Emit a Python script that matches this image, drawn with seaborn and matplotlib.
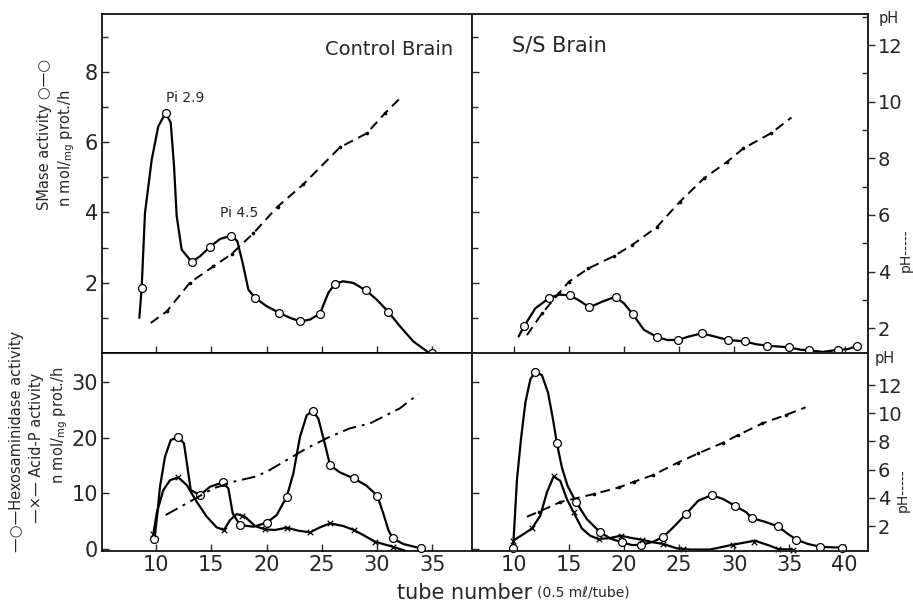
import matplotlib
matplotlib.use("Agg")
import matplotlib.pyplot as plt
import seaborn as sns
from matplotlib.ticker import MultipleLocator

sns.set_style("ticks")
plt.rcParams["font.family"] = ["DejaVu Sans"]

# ---- Control Brain : SMase (top left)
ctl_sm_x = [8.49, 8.70, 9.0, 9.61, 10.21, 10.87, 11.33, 11.63, 11.87, 12.32, 13.23, 13.98, 14.89,
            15.79, 16.79, 17.36, 17.84, 18.36, 18.96, 20.02, 21.16, 22.13, 23.03, 23.94, 24.84,
            25.6, 26.2, 26.95, 27.86, 29.0, 29.97, 31.03, 32.08, 33.29, 34.95]
ctl_sm_y = [1.0, 1.85, 3.98, 5.50, 6.45, 6.83, 6.55, 5.31, 3.89, 2.94, 2.59, 2.75, 3.02,
            3.24, 3.34, 3.18, 2.56, 1.80, 1.57, 1.33, 1.14, 1.0, 0.90, 0.95, 1.12,
            1.71, 1.97, 2.04, 1.99, 1.78, 1.52, 1.17, 0.76, 0.33, -0.05]
ctl_sm_mx = [8.70, 10.87, 13.23, 14.89, 16.79, 18.96, 21.16, 23.03, 24.84, 26.2, 29.0, 31.03, 34.95]
ctl_sm_my = [1.85, 6.83, 2.59, 3.02, 3.34, 1.57, 1.14, 0.90, 1.12, 1.97, 1.78, 1.17, 0.0]
ctl_ph1_x = [9.52, 10.97, 13.08, 15.19, 16.85, 18.81, 21.0, 23.33, 26.65, 29.06, 30.72, 32.23]
ctl_ph1_y = [2.18, 2.59, 3.61, 4.18, 4.62, 5.35, 6.29, 7.08, 8.39, 8.88, 9.59, 10.18]

# ---- S/S Brain : SMase (top right)
ss_sm_x = [10.45, 10.96, 11.96, 13.24, 14.1, 15.09, 15.9, 16.87, 18.03, 19.24, 20.0, 20.78, 21.8,
           23.03, 23.94, 24.9, 25.9, 27.05, 28.2, 29.4, 30.96, 31.96, 32.94, 35.0, 36.06, 36.8,
           38.0, 39.4, 40.3, 41.1]
ss_sm_y = [0.47, 0.77, 1.27, 1.57, 1.66, 1.64, 1.5, 1.30, 1.46, 1.60, 1.41, 1.11, 0.66,
           0.45, 0.37, 0.37, 0.47, 0.56, 0.47, 0.37, 0.33, 0.25, 0.21, 0.16, 0.09, 0.08,
           0.03, 0.09, 0.11, 0.2]
ss_sm_mx = [10.96, 13.24, 15.09, 16.87, 19.24, 20.78, 23.03, 24.9, 27.05, 29.4, 30.96, 32.94,
            35.0, 36.8, 39.4, 41.1]
ss_sm_my = [0.77, 1.57, 1.64, 1.30, 1.60, 1.11, 0.45, 0.37, 0.56, 0.37, 0.33, 0.21,
            0.16, 0.08, 0.09, 0.2]
ss_ph1_x = [11.2, 12.57, 14.1, 15.0, 16.78, 19.06, 20.72, 23.0, 25.05, 27.24, 29.36, 30.82, 33.3, 35.18]
ss_ph1_y = [1.75, 2.52, 3.23, 3.64, 4.11, 4.54, 4.93, 5.58, 6.46, 7.29, 7.88, 8.35, 8.88, 9.44]

# ---- Control Brain : Hexosaminidase / Acid-P (bottom left)
ctl_hex_x = [9.85, 10.06, 10.36, 10.81, 11.33, 12.02, 12.53, 12.84, 13.14, 13.98, 14.89, 16.03,
             16.55, 16.94, 17.6, 18.81, 20.02, 20.92, 21.83, 22.43, 23.03, 23.64, 24.18, 24.69,
             25.2, 25.75, 26.65, 27.92, 29.06, 30.03, 30.57, 31.03, 31.42, 32.38, 33.95]
ctl_hex_y = [1.73, 5.2, 11.18, 16.56, 19.55, 20.14, 18.95, 14.76, 10.58, 9.68, 11.18, 11.95,
             10.88, 6.40, 4.30, 4.0, 4.72, 6.10, 9.38, 13.57, 20.14, 24.03, 24.81, 23.43,
             19.55, 15.06, 13.75, 12.67, 11.36, 9.56, 6.4, 3.41, 1.91, 0.9, 0.12]
ctl_hex_mx = [9.85, 12.02, 13.98, 16.03, 17.6, 20.02, 21.83, 24.18, 25.75, 27.92, 30.03, 31.42, 33.95]
ctl_hex_my = [1.73, 20.14, 9.68, 11.95, 4.30, 4.72, 9.38, 24.81, 15.06, 12.67, 9.56, 1.91, 0.12]
ctl_acp_x = [9.76, 10.06, 10.66, 11.27, 12.02, 12.78, 13.68, 14.59, 15.49, 16.15, 16.7, 17.3,
             18.05, 18.96, 19.86, 20.77, 21.83, 22.88, 23.94, 24.84, 25.75, 26.95, 27.92,
             28.91, 29.82, 30.87, 31.42, 32.53]
ctl_acp_y = [2.69, 6.4, 10.58, 12.37, 12.85, 11.48, 8.49, 5.8, 3.89, 3.41, 5.2, 6.28,
             5.8, 4.12, 3.53, 3.41, 3.83, 3.29, 2.99, 3.89, 4.6, 4.12, 3.41,
             2.33, 1.31, 0.72, 0.42, -0.3]
ctl_acp_mx = [9.76, 12.02, 16.15, 17.75, 19.86, 21.83, 23.94, 25.75, 27.92, 29.82, 31.42]
ctl_acp_my = [2.69, 12.85, 3.41, 5.9, 3.53, 3.83, 2.99, 4.6, 3.41, 1.31, 0.42]
ctl_ph2_x = [10.87, 12.78, 15.19, 17.0, 18.96, 20.02, 21.83, 23.64, 25.75, 27.56, 29.37, 30.87, 32.08, 33.74]
ctl_ph2_y = [2.78, 3.61, 4.67, 5.14, 5.5, 5.85, 6.68, 7.51, 8.34, 8.93, 9.28, 9.87, 10.35, 11.36]

# ---- S/S Brain : Hexosaminidase / Acid-P (bottom right)
ss_hex_x = [9.94, 10.06, 10.3, 10.66, 11.06, 11.51, 11.96, 12.56, 13.11, 13.56, 13.92, 14.37,
            14.88, 15.67, 16.63, 17.78, 18.74, 19.8, 20.7, 21.55, 22.66, 23.57, 24.47, 25.62,
            26.73, 27.94, 28.99, 30.05, 31.1, 31.56, 32.76, 33.97, 34.87, 35.63, 36.68, 37.74,
            38.79, 39.79]
ss_hex_y = [0.12, 4.18, 12.55, 19.72, 26.3, 30.48, 31.86, 31.2, 28.09, 23.31, 18.95, 14.64,
            11.36, 8.37, 5.38, 3.11, 1.91, 1.2, 0.72, 0.72, 1.31, 2.21, 3.89, 6.28,
            8.67, 9.68, 8.97, 7.77, 6.58, 5.56, 4.9, 4.06, 2.69, 1.67, 0.9, 0.42,
            0.3, 0.24]
ss_hex_mx = [9.94, 11.96, 13.92, 15.67, 17.78, 19.8, 21.55, 23.57, 25.62, 27.94, 30.05, 31.56,
             33.97, 35.63, 37.74, 39.79]
ss_hex_my = [0.12, 31.86, 18.95, 8.37, 3.11, 1.2, 0.72, 2.21, 6.28, 9.68, 7.77, 5.56,
             4.06, 1.67, 0.42, 0.24]
ss_acp_x = [9.94, 10.9, 11.66, 12.41, 13.01, 13.62, 14.22, 14.82, 15.43, 16.18, 16.93, 17.69,
            18.74, 19.7, 20.7, 21.6, 22.66, 23.57, 24.77, 25.98, 27.79, 29.9, 31.86, 33.21,
            33.97, 35.3]
ss_acp_y = [1.49, 2.69, 3.7, 5.98, 10.16, 13.03, 12.25, 8.97, 6.57, 3.7, 2.39, 1.79,
            1.97, 2.39, 1.97, 1.67, 1.19, 0.9, 0.12, -0.1, -0.1, 0.78, 1.49, 0.6,
            0.0, -0.1]
ss_acp_mx = [9.94, 11.66, 13.62, 15.43, 17.69, 19.7, 21.6, 23.57, 25.38, 29.9, 31.82, 33.97, 35.3]
ss_acp_my = [1.49, 3.7, 13.03, 6.57, 1.79, 2.39, 1.67, 0.9, 0.0, 0.78, 1.3, 0.0, -0.1]
ss_ph2_x = [11.2, 12.27, 14.22, 17.27, 19.55, 20.9, 22.66, 24.86, 26.73, 28.99, 30.35, 32.55, 34.66, 36.47]
ss_ph2_y = [2.66, 3.01, 3.7, 4.27, 4.74, 5.14, 5.62, 6.49, 7.15, 7.91, 8.45, 9.28, 9.87, 10.42]

W, H = 913, 607
fig = plt.figure(figsize=(W / 100, H / 100), dpi=100)


def rect(x0, x1, y0, y1):
    return [x0 / W, 1 - y1 / H, (x1 - x0) / W, (y1 - y0) / H]


ax_tl = fig.add_axes(rect(102, 472, 14, 353))
ax_tr = fig.add_axes(rect(472, 868, 14, 353))
ax_bl = fig.add_axes(rect(102, 472, 353, 551))
ax_br = fig.add_axes(rect(472, 868, 353, 551))

tick_font = ["Liberation Sans Narrow", "DejaVu Sans"]
LW = 1.6


def activity(ax, x, y, mx, my, marker):
    sns.lineplot(x=x, y=y, ax=ax, color="black", lw=LW, sort=False, estimator=None)
    if marker == "o":
        sns.scatterplot(x=mx, y=my, ax=ax, marker="o", s=32, facecolor="white",
                        edgecolor="black", linewidth=0.9, zorder=4, clip_on=False)
    else:
        sns.scatterplot(x=mx, y=my, ax=ax, marker="x", s=16, color="black",
                        linewidth=0.9, zorder=4, clip_on=False)


def ph_line(ax, x, y, style, dots=True):
    sns.lineplot(x=x, y=y, ax=ax, color="black", lw=1.4, sort=False, estimator=None,
                 linestyle=style)
    if dots:
        sns.scatterplot(x=x[1:-1], y=y[1:-1], ax=ax, s=7, color="black", linewidth=0)


# activity curves
activity(ax_tl, ctl_sm_x, ctl_sm_y, ctl_sm_mx, ctl_sm_my, "o")
activity(ax_tr, ss_sm_x, ss_sm_y, ss_sm_mx, ss_sm_my, "o")
activity(ax_bl, ctl_hex_x, ctl_hex_y, ctl_hex_mx, ctl_hex_my, "o")
activity(ax_bl, ctl_acp_x, ctl_acp_y, ctl_acp_mx, ctl_acp_my, "x")
activity(ax_br, ss_hex_x, ss_hex_y, ss_hex_mx, ss_hex_my, "o")
activity(ax_br, ss_acp_x, ss_acp_y, ss_acp_mx, ss_acp_my, "x")

# pH twin axes
ph_top = (1.12, 13.1)
ph_bot = (0.23, 14.27)
tw = {}
for name, ax, lim in [("tl", ax_tl, ph_top), ("tr", ax_tr, ph_top),
                      ("bl", ax_bl, ph_bot), ("br", ax_br, ph_bot)]:
    t = ax.twinx()
    t.set_ylim(*lim)
    tw[name] = t

ph_line(tw["tl"], ctl_ph1_x, ctl_ph1_y, (0, (5, 3)))
ph_line(tw["tr"], ss_ph1_x, ss_ph1_y, (0, (5, 3)))
ph_line(tw["bl"], ctl_ph2_x, ctl_ph2_y, (0, (7, 3, 1.5, 3)), dots=False)
ph_line(tw["br"], ss_ph2_x, ss_ph2_y, (0, (5, 3)))

tw["tl"].set_axis_off()
tw["bl"].set_axis_off()

# limits
for ax in (ax_tl, ax_bl):
    ax.set_xlim(5.11, 38.6)
for ax in (ax_tr, ax_br):
    ax.set_xlim(6.22, 42.12)
for ax in (ax_tl, ax_tr):
    ax.set_ylim(0, 9.64)
    ax.yaxis.set_major_locator(MultipleLocator(2))
    ax.yaxis.set_minor_locator(MultipleLocator(1))
for ax in (ax_bl, ax_br):
    ax.set_ylim(-0.36, 35.2)
    ax.yaxis.set_major_locator(MultipleLocator(10))

for ax in (ax_tl, ax_tr, ax_bl, ax_br):
    ax.xaxis.set_major_locator(MultipleLocator(5))
    ax.set_xlabel("")
    ax.set_ylabel("")
    ax.tick_params(axis="both", which="both", direction="in", length=5, width=1,
                   top=False, right=False, labelsize=15, pad=3,
                   labelfontfamily=tick_font)
    ax.tick_params(axis="y", which="minor", length=4)
    for s in ax.spines.values():
        s.set_linewidth(1.2)
        s.set_color("black")

ax_tl.set_yticks([2, 4, 6, 8])
ax_tl.tick_params(axis="x", labelbottom=False)
ax_tr.tick_params(axis="x", labelbottom=False)
ax_tr.tick_params(axis="y", labelleft=False)
ax_br.tick_params(axis="y", labelleft=False)
ax_bl.set_xticks([10, 15, 20, 25, 30, 35])
ax_br.set_xticks([10, 15, 20, 25, 30, 35, 40])

# right pH axes
tw["tr"].set_yticks([2, 4, 6, 8, 10, 12])
tw["tr"].yaxis.set_minor_locator(MultipleLocator(1))
tw["br"].set_yticks([2, 4, 6, 8, 10, 12])
for t in (tw["tr"], tw["br"]):
    t.set_ylabel("")
    t.tick_params(axis="y", which="major", direction="out", length=5, width=1,
                  labelsize=14, pad=2, labelfontfamily=tick_font)
    t.tick_params(axis="y", which="minor", direction="in", length=4, width=1)
    for s in t.spines.values():
        s.set_linewidth(1.2)

# panel texts
ax_tl.text(0.949, 0.894, "Control Brain", transform=ax_tl.transAxes, ha="right",
           va="center", fontsize=14)
ax_tr.text(0.101, 0.906, "S/S Brain", transform=ax_tr.transAxes, ha="left",
           va="center", fontsize=15)
ax_tl.text(12.6, 7.25, "Pi 2.9", ha="center", va="center", fontsize=10)
ax_tl.text(17.5, 3.98, "Pi 4.5", ha="center", va="center", fontsize=10)

# axis labels
fig.text(45 / W, 1 - 134 / H, "SMase activity ○—○", rotation=90, ha="center",
         va="center", fontsize=10.5)
fig.text(67 / W, 1 - 148 / H, "n mol/$_\\mathregular{mg}$ prot./h", rotation=90,
         ha="center", va="center", fontsize=10.5)
fig.text(17 / W, 1 - 441 / H, "—○—Hexosaminidase activity", rotation=90, ha="center",
         va="center", fontsize=10.5)
fig.text(37 / W, 1 - 448 / H, "—×— Acid-P activity", rotation=90, ha="center",
         va="center", fontsize=10.5)
fig.text(60 / W, 1 - 425 / H, "n mol/$_\\mathregular{mg}$ prot./h", rotation=90,
         ha="center", va="center", fontsize=10.5)

fig.text(889 / W, 1 - 19 / H, "pH", ha="center", va="center", fontsize=10.5)
fig.text(885 / W, 1 - 358 / H, "pH", ha="center", va="center", fontsize=10.5)
fig.text(906 / W, 1 - 250 / H, "pH-----", rotation=90, ha="center", va="center",
         fontsize=10)
fig.text(903 / W, 1 - 490 / H, "pH-----", rotation=90, ha="center", va="center",
         fontsize=10)

fig.text(532 / W, 1 - 593 / H, "tube number", ha="right", va="center", fontsize=15)
fig.text(537 / W, 1 - 592 / H, "(0.5 mℓ/tube)", ha="left", va="center", fontsize=10)

fig.savefig("out.png", dpi=100)
